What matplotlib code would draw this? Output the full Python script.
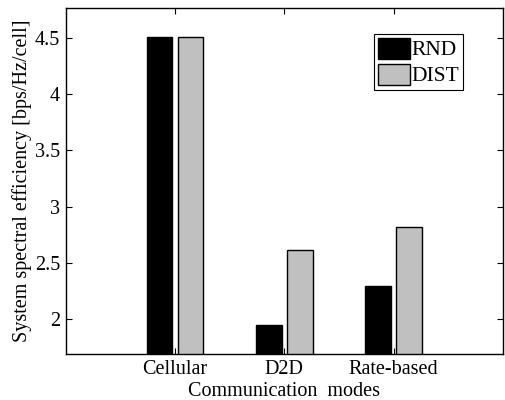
import matplotlib
matplotlib.use("Agg")
import matplotlib.pyplot as plt
import numpy as np

categories = ["Cellular", "D2D", "Rate-based"]
rnd = [4.51, 1.95, 2.29]
dist = [4.51, 2.61, 2.82]
series_names = ["RND", "DIST"]
yticks = [2, 2.5, 3, 3.5, 4, 4.5]
ytick_labels = ["2", "2.5", "3", "3.5", "4", "4.5"]

plt.rcParams['font.family'] = ['Liberation Serif', 'DejaVu Serif']
plt.rcParams['mathtext.fontset'] = 'stix'

FS = 14.5

fig = plt.figure(figsize=(5.06, 4.0), dpi=100)
ax = fig.add_axes([0.130, 0.115, 0.864, 0.865])

x = np.arange(1, len(categories) + 1)
w = 0.235
off = 0.142
ax.bar(x - off, rnd, width=w, color="black", edgecolor="black", linewidth=1.0, label=series_names[0])
ax.bar(x + off, dist, width=w, color="#c0c0c0", edgecolor="black", linewidth=1.0, label=series_names[1])

ax.set_xlim(0, 4)
ax.set_ylim(1.69, 4.765)
ax.set_xticks(x)
ax.set_xticklabels(categories, fontsize=FS)
ax.set_yticks(yticks)
ax.set_yticklabels(ytick_labels, fontsize=FS)
ax.tick_params(direction="in", top=True, right=True, length=4, width=0.8, pad=4)
for s in ax.spines.values():
    s.set_linewidth(1.0)

ax.set_xlabel("Communication  modes", fontsize=FS, labelpad=2.5)
ax.set_ylabel("System spectral efficiency [bps/Hz/cell]", fontsize=FS, labelpad=2)

leg = ax.legend(loc="upper right", bbox_to_anchor=(0.908, 0.925), fontsize=FS,
                frameon=True, fancybox=False, edgecolor="black", framealpha=1,
                handlelength=1.6, handleheight=1.2, handletextpad=0.05,
                borderpad=0.2, labelspacing=0.2, borderaxespad=0)
for t in leg.get_texts():
    t.set_fontsize(15.5)
leg.get_frame().set_linewidth(0.8)

fig.savefig("out.png", dpi=100)
